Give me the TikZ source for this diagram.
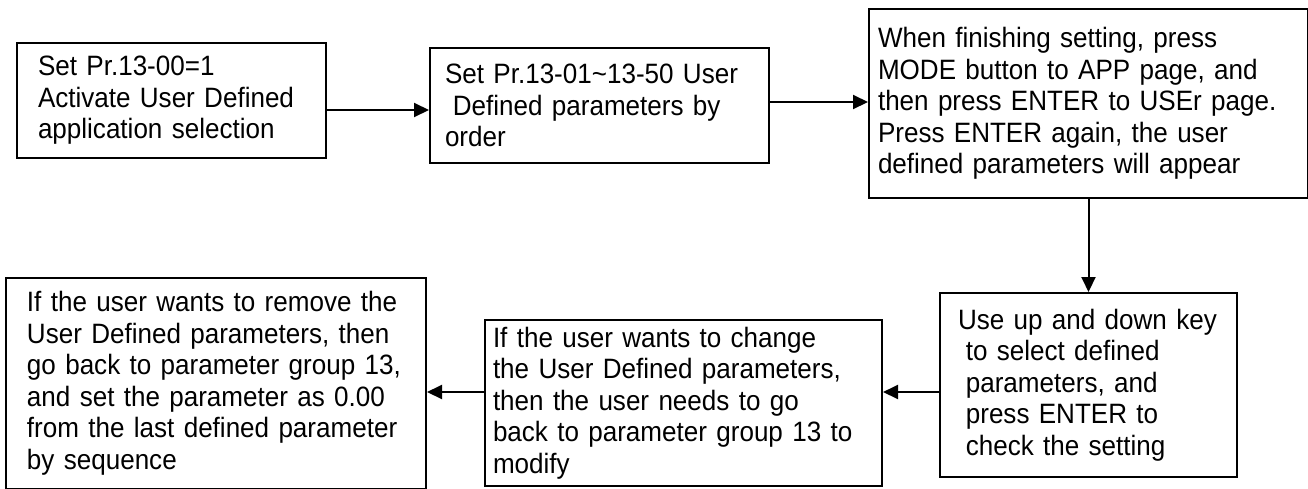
\documentclass[tikz,border=0pt]{standalone}
\usepackage{fontspec}
\setmainfont{Liberation Sans}[FakeStretch=0.93]
\usetikzlibrary{positioning, arrows.meta}
\newcommand{\indsp}{\hspace*{0.28em}}

\begin{document}
\begin{tikzpicture}[x=1pt, y=-1pt,
        every node/.style={font=\fontsize{28}{31.5}\selectfont},
        stepbox/.style={draw, line width=2pt, align=left, inner ysep=0pt},
        arr/.style={-{Triangle[length=15pt, width=14pt]}, line width=2pt}]
      \useasboundingbox (0,0) rectangle (1308,488);

      \node[stepbox, text width=267pt, inner xsep=21pt, minimum height=115pt] (act) at (171.5,100.5)
        {Set Pr.13-00=1\\Activate User Defined\\application selection};
      \node[stepbox, text width=309pt, inner xsep=15pt, minimum height=115pt, right=102pt of act, yshift=-5pt] (order)
        {Set Pr.13-01\textasciitilde13-50 User\\\indsp Defined parameters by\\order};
      \node[stepbox, text width=421pt, inner xsep=9pt, minimum height=189pt, right=98pt of order, yshift=2pt] (finish)
        {When finishing setting, press\\MODE button to APP page, and\\then press ENTER to USEr page.\\Press ENTER again, the user\\defined parameters will appear};
      \node[stepbox, text width=261pt, inner xsep=18pt, minimum height=184pt, below=93pt of finish] (select)
        {Use up and down key\\\indsp to select defined\\\indsp parameters, and\\\indsp press ENTER to\\\indsp check the setting};
      \node[stepbox, text width=381pt, inner xsep=8pt, minimum height=166pt, left=56pt of select, yshift=-18pt] (change)
        {If the user wants to change\\the User Defined parameters,\\then the user needs to go\\back to parameter group 13 to\\modify};
      \node[stepbox, text width=378pt, inner xsep=21pt, minimum height=211pt, left=57pt of change, yshift=19.5pt] (remove)
        {If the user wants to remove the\\User Defined parameters, then\\go back to parameter group 13,\\and set the parameter as 0.00\\from the last defined parameter\\by sequence};

      % arrow levels of the two rows
      \coordinate (top1) at ([yshift=-9.5pt]act.east);
      \coordinate (top2) at ([yshift=3.5pt]order.east);
      \coordinate (low) at ([yshift=-7pt]select.west);

      \draw[arr] (top1) -- (order.west |- top1);
      \draw[arr] (top2) -- (finish.west |- top2);
      \draw[arr] (finish) -- (select);
      \draw[arr] (low) -- (change.east |- low);
      \draw[arr] (change.west |- low) -- (remove.east |- low);
    \end{tikzpicture}
\end{document}
